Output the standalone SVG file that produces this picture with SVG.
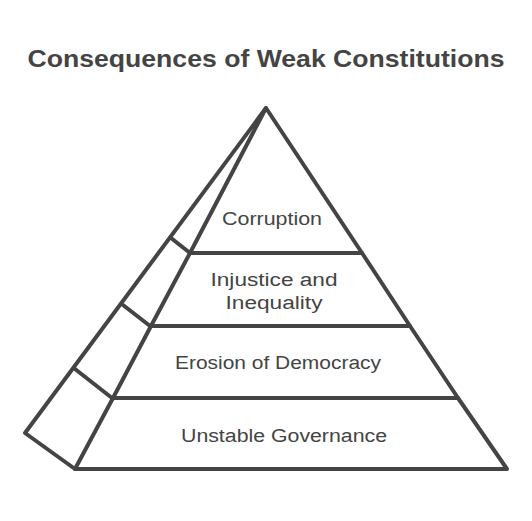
<svg xmlns="http://www.w3.org/2000/svg" width="532" height="521" viewBox="0 0 532 521">
<style>
.e{fill:none;stroke:#444;stroke-width:4;stroke-linecap:round;stroke-linejoin:round}
.t{font-family:"Liberation Sans",Arial,sans-serif;font-size:18px;fill:#444;text-anchor:middle}
.h{font-family:"Liberation Sans",Arial,sans-serif;font-size:24px;font-weight:bold;fill:#444;text-anchor:middle}
</style>
<rect width="532" height="521" fill="#fff"/>
<text class="h" x="266" y="67" textLength="477" lengthAdjust="spacingAndGlyphs">Consequences of Weak Constitutions</text>
<g id="pyramid-side">
<path class="e" d="M266,108 L25,433 L75,469"/>
<path class="e" d="M171,238 L190,253"/>
<path class="e" d="M123,305 L150,326"/>
<path class="e" d="M75,369 L112,398"/>
</g>
<g id="tier-corruption">
<path class="e" d="M266,108 L190,253 L362,253 Z"/>
<text class="t" x="272" y="225" textLength="100" lengthAdjust="spacingAndGlyphs">Corruption</text>
</g>
<g id="tier-injustice">
<path class="e" d="M190,253 L151,326 L410,326 L362,253"/>
<text class="t" x="274" y="286" textLength="127" lengthAdjust="spacingAndGlyphs">Injustice and</text>
<text class="t" x="274" y="309" textLength="97" lengthAdjust="spacingAndGlyphs">Inequality</text>
</g>
<g id="tier-erosion">
<path class="e" d="M151,326 L113,398 L458,398 L410,326"/>
<text class="t" x="278" y="369" textLength="206" lengthAdjust="spacingAndGlyphs">Erosion of Democracy</text>
</g>
<g id="tier-unstable">
<path class="e" d="M113,398 L75,469 L507,469 L458,398"/>
<text class="t" x="284" y="442" textLength="206" lengthAdjust="spacingAndGlyphs">Unstable Governance</text>
</g>
</svg>
